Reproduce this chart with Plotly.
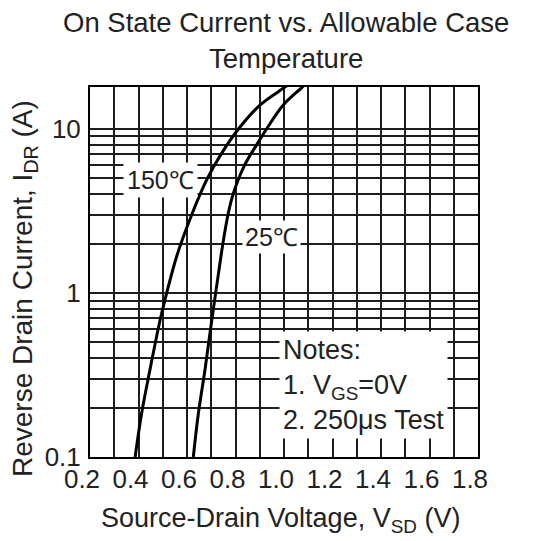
import plotly.graph_objects as go

# Data
v_150 = [0.386, 0.413, 0.447, 0.489, 0.509, 0.557, 0.619, 0.681, 0.740, 0.812, 0.901, 0.997, 1.026]
i_150 = [0.1, 0.185, 0.339, 0.684, 0.906, 1.665, 2.99, 4.89, 7.0, 10.0, 14.0, 17.7, 19.0]
v_25 = [0.626, 0.647, 0.674, 0.700, 0.724, 0.748, 0.769, 0.790, 0.837, 0.887, 0.928, 0.997, 1.070, 1.092]
i_25 = [0.1, 0.185, 0.339, 0.65, 1.146, 2.0, 3.0, 4.0, 6.0, 8.0, 10.0, 14.0, 17.7, 19.0]

y_tickvals = [0.1, 1, 10]
y_ticktext = ["0.1", "1", "10"]
y_minor = [0.2, 0.3, 0.4, 0.5, 0.6, 0.7, 0.8, 0.9, 2, 3, 4, 5, 6, 7, 8, 9]

title_text = "On State Current vs. Allowable Case<br>Temperature"
x_title = "Source-Drain Voltage, V<sub>SD</sub> (V)"
y_title = "Reverse Drain Current, I<sub>DR</sub> (A)"
notes_text = "Notes:<br>1. V<sub>GS</sub>=0V<br>2. 250μs Test"

FONT = "Liberation Sans, Arial, sans-serif"
GRID = "#1e1e1e"
TXT = "#222"

fig = go.Figure()
for v, i in ((v_150, i_150), (v_25, i_25)):
    fig.add_trace(go.Scatter(x=v, y=i, mode="lines", cliponaxis=True,
                             line=dict(color="black", width=3, shape="spline", smoothing=1.0),
                             showlegend=False))

# the page body adds an 8px offset, so the figure is 8px smaller
fig.update_layout(
    width=527, height=533,
    margin=dict(l=82, r=57, t=79, b=84),
    paper_bgcolor="white", plot_bgcolor="white",
    font=dict(family=FONT, color=TXT),
    showlegend=False,
)

fig.update_xaxes(
    range=[0.2, 1.8], tick0=0.2, dtick=0.2, tickformat=".1f",
    showgrid=True, gridcolor=GRID, gridwidth=1.5,
    minor=dict(dtick=0.1, tick0=0.2, showgrid=True, gridcolor=GRID, gridwidth=1.5),
    showline=True, mirror=True, linecolor="black", linewidth=2,
    ticks="", ticklabelstandoff=-2, ticklabelshift=-8,
    tickfont=dict(size=26, color=TXT),
    automargin=False, zeroline=False,
)

fig.update_yaxes(
    type="log", range=[-1, 1.256],
    tickvals=y_tickvals, ticktext=y_ticktext,
    showgrid=True, gridcolor=GRID, gridwidth=1.5,
    minor=dict(tickvals=y_minor, showgrid=True, gridcolor=GRID, gridwidth=1.5),
    showline=True, mirror=True, linecolor="black", linewidth=2,
    ticks="", ticklabelstandoff=2,
    tickfont=dict(size=26, color=TXT),
    automargin=False, zeroline=False,
)

# Title and axis titles
fig.add_annotation(xref="paper", yref="paper", x=0.505, y=1.222, xanchor="center", yanchor="top",
                   text=title_text, showarrow=False, font=dict(size=27.5, color=TXT))
fig.add_annotation(xref="paper", yref="paper", x=0.492, y=-0.170, xanchor="center", yanchor="middle",
                   text=x_title, showarrow=False, font=dict(size=27, color=TXT))
fig.add_annotation(xref="paper", yref="paper", x=-0.170, y=0.454, xanchor="center", yanchor="middle",
                   text=y_title, textangle=-90, showarrow=False, font=dict(size=28, color=TXT))

# Curve labels and notes
fig.add_annotation(x=0.489, y=0.689, yref="y", xref="x", text="150℃", showarrow=False,
                   bgcolor="white", borderpad=3, font=dict(size=25, color=TXT))
fig.add_annotation(x=0.950, y=0.3415, yref="y", xref="x", text="25℃", showarrow=False,
                   bgcolor="white", borderpad=2, font=dict(size=25, color=TXT))
fig.add_annotation(x=0.978, y=-0.561, xref="x", yref="y", xanchor="left", yanchor="middle", align="left",
                   text=notes_text, showarrow=False,
                   bgcolor="white", borderpad=3, font=dict(size=27, color=TXT))

fig.write_html("out.html")
